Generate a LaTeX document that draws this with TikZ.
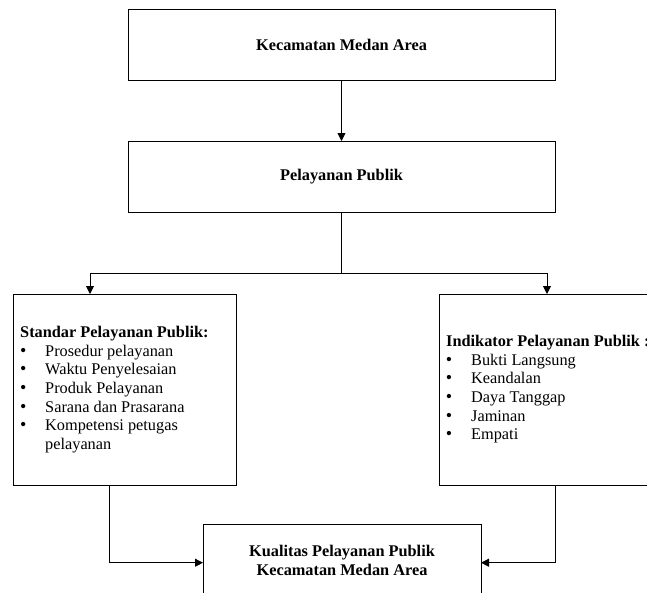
\documentclass[tikz,border=0pt]{standalone}
\usepackage{fontspec}
\setmainfont{Liberation Serif}
\usetikzlibrary{arrows.meta}
\newcommand\fsz{\fontsize{16.3pt}{18.7pt}\selectfont}
\tikzset{
  boxnode/.style={draw=black, line width=0.9pt, inner sep=0pt, outer sep=0pt, font=\fsz\bfseries, align=center},
  txt/.style={anchor=base west, inner sep=0pt, font=\fsz},
  ttl/.style={anchor=base west, inner sep=0pt, font=\fsz\bfseries},
  bul/.style={anchor=base, inner sep=0pt, font=\fontsize{18pt}{18pt}\selectfont},
  conn/.style={draw=black, line width=0.9pt},
  arr/.style={conn, -{Triangle[length=8pt,width=8pt]}}
}
\begin{document}
\begin{tikzpicture}[x=1pt,y=-1pt]
\useasboundingbox (0,0) rectangle (647,592);
\clip (0,0) rectangle (647,592);
\fill[white] (0,0) rectangle (647,592);
% boxes
\node[boxnode, minimum width=427pt, minimum height=71pt] (kec) at (341.5,44.5) {Kecamatan Medan Area};
\node[boxnode, minimum width=427pt, minimum height=71pt] (pel) at (341.5,176.5) {Pelayanan Publik};
\node[boxnode, minimum width=223pt, minimum height=191pt] (std) at (124.5,389.5) {};
\node[boxnode, minimum width=230pt, minimum height=191pt] (ind) at (554,389.5) {};
\node[boxnode, minimum width=278pt, minimum height=73pt] (kual) at (342,560.5) {Kualitas Pelayanan Publik\\Kecamatan Medan Area};
% left box text
\node[ttl] (stdT) at (20,337) {Standar Pelayanan Publik:};
\node[bul] (sb1) at (23.3,356) {•};
\node[bul] (sb2) at (23.3,374.7) {•};
\node[bul] (sb3) at (23.3,393.4) {•};
\node[bul] (sb4) at (23.3,412.1) {•};
\node[bul] (sb5) at (23.3,430.8) {•};
\node[txt] (s1) at (45,356) {Prosedur pelayanan};
\node[txt] (s2) at (45,374.7) {Waktu Penyelesaian};
\node[txt] (s3) at (45,393.4) {Produk Pelayanan};
\node[txt] (s4) at (45,412.1) {Sarana dan Prasarana};
\node[txt] (s5) at (45,430.8) {Kompetensi petugas};
\node[txt] (s6) at (45,449.5) {pelayanan};
% right box text
\node[ttl] (indT) at (446,346.7) {Indikator Pelayanan Publik :};
\node[bul] (ib1) at (449,365) {•};
\node[bul] (ib2) at (449,383.7) {•};
\node[bul] (ib3) at (449,402.4) {•};
\node[bul] (ib4) at (449,421.1) {•};
\node[bul] (ib5) at (449,439.8) {•};
\node[txt] (i1) at (471,365) {Bukti Langsung};
\node[txt] (i2) at (471,383.7) {Keandalan};
\node[txt] (i3) at (471,402.4) {Daya Tanggap};
\node[txt] (i4) at (471,421.1) {Jaminan};
\node[txt] (i5) at (471,439.8) {Empati};
% connectors
\draw[arr] (kec.south) -- (pel.north);
\coordinate (j) at (341.5,273);
\coordinate (ls) at (90,273);
\coordinate (rs) at (547,273);
\draw[conn] (pel.south) -- (j);
\draw[arr] (j) -- (ls) -- (ls |- std.north);
\draw[arr] (j) -- (rs) -- (rs |- ind.north);
\coordinate (lb) at (109,0);
\coordinate (rb) at (555,0);
\draw[arr] (lb |- std.south) -- (lb |- 0,562.7) -- (kual.west |- 0,562.7);
\draw[arr] (rb |- ind.south) -- (rb |- 0,562.7) -- (kual.east |- 0,562.7);
\end{tikzpicture}
\end{document}
